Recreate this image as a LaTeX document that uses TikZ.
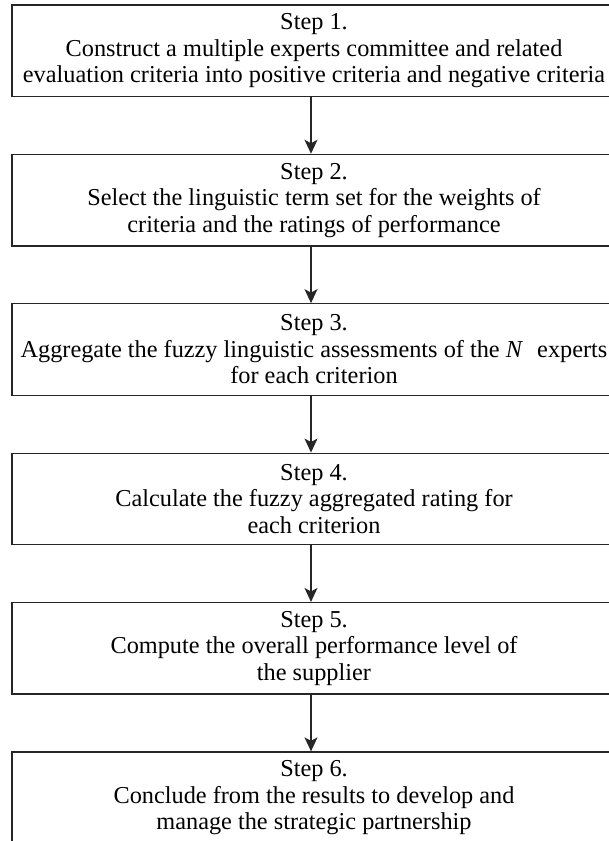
\documentclass[tikz,border=0pt]{standalone}
\usepackage{fontspec}
\setmainfont{Liberation Serif}
\usetikzlibrary{arrows.meta}
\begin{document}
\begin{tikzpicture}[x=1pt,y=1pt,
  stepbox/.style={draw=black!85,line width=1.3pt,minimum width=604pt,minimum height=91.5pt,
    inner sep=0pt,align=center,font=\fontsize{24.3pt}{26.5pt}\selectfont},
  arr/.style={draw=black!85,line width=1.3pt,-{Stealth[length=14pt,width=13pt,inset=3.5pt]}}]
\useasboundingbox (0,0) rectangle (609,-841);
\clip (0,0) rectangle (609,-841);
\node[stepbox] (s1) at (314,-50.75) {Step 1.\\Construct a multiple experts committee and related\\evaluation criteria into positive criteria and negative criteria};
\node[stepbox] (s2) at (314,-200.15) {Step 2.\\Select the linguistic term set for the weights of\\criteria and the ratings of performance};
\node[stepbox] (s3) at (314,-349.55) {Step 3.\\Aggregate the fuzzy linguistic assessments of the \textit{N}\hspace{8pt} experts\\for each criterion};
\node[stepbox] (s4) at (314,-498.95) {Step 4.\\Calculate the fuzzy aggregated rating for\\each criterion};
\node[stepbox] (s5) at (314,-648.35) {Step 5.\\Compute the overall performance level of\\the supplier};
\node[stepbox] (s6) at (314,-797.75) {Step 6.\\Conclude from the results to develop and\\manage the strategic partnership};
\foreach \a/\b in {s1/s2,s2/s3,s3/s4,s4/s5,s5/s6}
  \draw[arr] ([xshift=-3pt]\a.south) -- ([xshift=-3pt]\b.north);
\end{tikzpicture}
\end{document}
